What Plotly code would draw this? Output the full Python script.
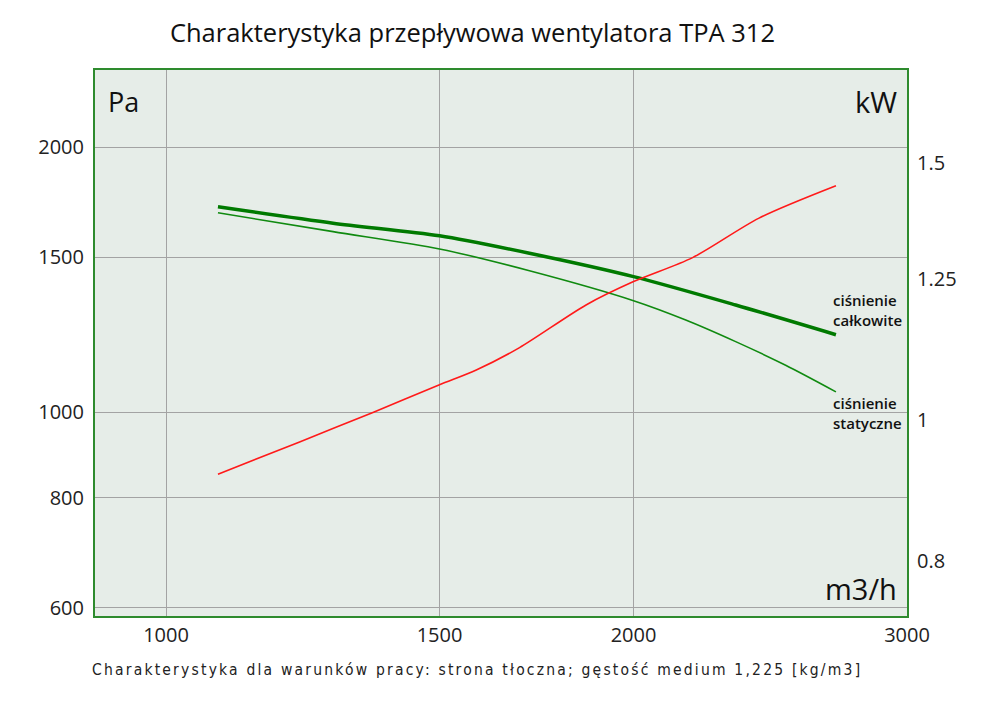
import numpy as np
import plotly.graph_objects as go

# Flow characteristic of TPA 312 fan
q_total = [1080, 1281, 1500, 1714, 2000, 2327, 2700]
p_total = [1712, 1640, 1587, 1516, 1426, 1324, 1225]

q_static = [1080, 1281, 1500, 1714, 2000, 2161, 2327, 2506, 2700]
p_static = [1685, 1604, 1533, 1448, 1339, 1273, 1203, 1131, 1055]

q_power = [1080, 1219, 1359, 1500, 1584, 1689, 1864, 2000, 2183, 2409, 2700]
kw_power = [0.918, 0.966, 1.012, 1.057, 1.082, 1.121, 1.199, 1.244, 1.292, 1.375, 1.447]

x_ticks = [1000, 1500, 2000, 3000]
y_ticks = [600, 800, 1000, 1500, 2000]
y2_ticks = [0.8, 1, 1.25, 1.5]

font = "Open Sans"
frame = "#2e8b2e"

fig = go.Figure()
fig.add_trace(go.Scatter(x=q_static, y=p_static, mode="lines",
                         line=dict(color="#108a10", width=1.6, shape="spline", smoothing=0.8)))
fig.add_trace(go.Scatter(x=q_total, y=p_total, mode="lines",
                         line=dict(color="#007a00", width=3.5, shape="spline", smoothing=0.8)))
fig.add_trace(go.Scatter(x=q_power, y=kw_power, mode="lines", yaxis="y2",
                         line=dict(color="#ff1a1a", width=1.6, shape="spline", smoothing=0.8)))

# page body adds an 8 px offset, so the figure is a bit smaller than the window
fig.update_layout(
    width=984, height=690,
    margin=dict(l=87, r=85, t=62, b=82),
    paper_bgcolor="white",
    plot_bgcolor="#e6ede8",
    showlegend=False,
    font=dict(family=font, color="#222222"),
    title=dict(text="Charakterystyka przepływowa wentylatora TPA 312", x=0.472, xanchor="center",
               y=0.964, yanchor="middle", font=dict(size=25.5, color="#111111")),
    xaxis=dict(type="log", range=[np.log10(900), np.log10(3000)], tickvals=x_ticks,
               ticktext=[str(v) for v in x_ticks], showgrid=True, gridcolor="#a3a3a3", gridwidth=1,
               zeroline=False, showline=True, linecolor=frame, linewidth=2, mirror=True,
               ticks="", tickfont=dict(size=20), ticklabelstandoff=0),
    yaxis=dict(type="log", range=[np.log10(587), np.log10(2448)], tickvals=y_ticks,
               ticktext=[str(v) for v in y_ticks], showgrid=True, gridcolor="#a3a3a3", gridwidth=1,
               zeroline=False, showline=True, linecolor=frame, linewidth=2, mirror=True,
               ticks="", tickfont=dict(size=20), ticklabelstandoff=5),
    yaxis2=dict(type="log", range=[np.log10(0.734), np.log10(1.737)], overlaying="y", side="right",
                tickvals=y2_ticks, ticktext=["0.8", "1", "1.25", "1.5"], showgrid=False,
                zeroline=False, showline=False, ticks="", tickfont=dict(size=20), ticklabelstandoff=9),
)

ann = [
    dict(text="Pa", x=0.014, y=0.943, xanchor="left", size=27),
    dict(text="kW", x=0.99, y=0.943, xanchor="right", size=29),
    dict(text="m3/h", x=0.99, y=0.05, xanchor="right", size=29),
]
for a in ann:
    fig.add_annotation(text=a["text"], x=a["x"], y=a["y"], xref="paper", yref="paper",
                       xanchor=a["xanchor"], yanchor="middle", showarrow=False,
                       font=dict(size=a["size"], color="#111111"))

fig.add_annotation(text="ciśnienie<br>całkowite", x=0.906, y=0.56, xref="paper", yref="paper",
                   xanchor="left", yanchor="middle", align="left", showarrow=False,
                   font=dict(size=15, color="#111111", weight=600))
fig.add_annotation(text="ciśnienie<br>statyczne", x=0.906, y=0.372, xref="paper", yref="paper",
                   xanchor="left", yanchor="middle", align="left", showarrow=False,
                   font=dict(size=15, color="#111111", weight=600))

footer = "Charakterystyka dla warunków pracy: strona tłoczna; gęstość medium 1,225 [kg/m3]"
fig.add_annotation(text='<span style="letter-spacing:2.2px">' + footer + "</span>",
                   x=-0.006, y=-0.099, xref="paper", yref="paper", xanchor="left", yanchor="middle",
                   showarrow=False, font=dict(size=15.5, color="#222222", family="DejaVu Sans Condensed"))

fig.write_html("out.html")
